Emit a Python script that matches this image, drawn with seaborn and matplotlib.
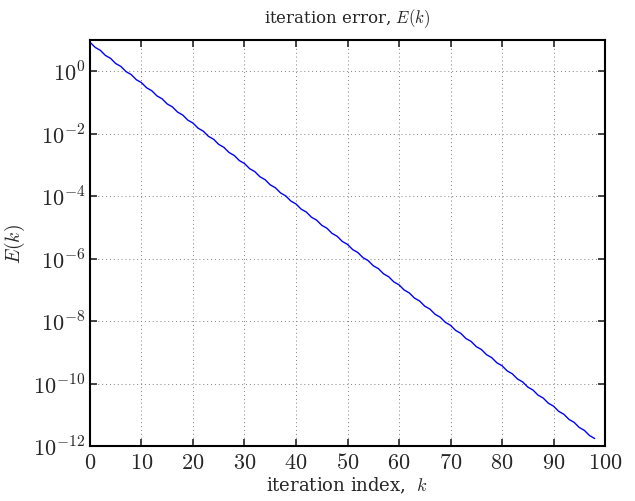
import matplotlib
matplotlib.use("Agg")
import matplotlib.pyplot as plt
import numpy as np
import pandas as pd
import seaborn as sns

# log10 of the iteration error, k = 0..98
log_err = [
    0.930, 0.765, 0.671, 0.506, 0.412, 0.247, 0.153, -0.012, -0.106, -0.271,
    -0.365, -0.530, -0.624, -0.789, -0.883, -1.048, -1.142, -1.307, -1.401, -1.566,
    -1.660, -1.825, -1.919, -2.084, -2.178, -2.343, -2.437, -2.602, -2.696, -2.861,
    -2.955, -3.120, -3.214, -3.379, -3.473, -3.638, -3.732, -3.897, -3.991, -4.156,
    -4.250, -4.415, -4.509, -4.674, -4.768, -4.933, -5.027, -5.192, -5.286, -5.451,
    -5.545, -5.710, -5.804, -5.969, -6.063, -6.228, -6.322, -6.487, -6.581, -6.746,
    -6.840, -7.005, -7.099, -7.264, -7.358, -7.523, -7.617, -7.782, -7.876, -8.041,
    -8.135, -8.300, -8.394, -8.559, -8.653, -8.818, -8.912, -9.077, -9.171, -9.336,
    -9.430, -9.595, -9.689, -9.854, -9.948, -10.113, -10.207, -10.372, -10.466, -10.631,
    -10.725, -10.890, -10.984, -11.149, -11.243, -11.408, -11.502, -11.667, -11.761,
]
k = list(range(len(log_err)))
df = pd.DataFrame({"k": k, "E": [10.0 ** v for v in log_err]})

sns.set_style("ticks")
plt.rcParams["font.family"] = ["DejaVu Serif"]
plt.rcParams["mathtext.fontset"] = "cm"

fig = plt.figure(figsize=(6.35, 5.02), dpi=100)
ax = fig.add_axes([0.1417, 0.1096, 0.8111, 0.8087])

sns.lineplot(data=df, x="k", y="E", color="#0000ff", linewidth=1.0, ax=ax)

ax.set_yscale("log")
ax.set_xlim(0, 100)
ax.set_ylim(1e-12, 1e1)
ax.set_xticks(np.arange(0, 101, 10))
ax.set_yticks([10.0 ** p for p in range(-12, 1, 2)])
ax.set_yticklabels([rf"$10^{{{p}}}$" for p in range(-12, 1, 2)])
ax.set_xticklabels([rf"$\mathrm{{{v}}}$" for v in range(0, 101, 10)])
ax.minorticks_off()

ax.grid(True, which="major", linestyle=(0, (1, 3)), color="#808080", linewidth=0.7)
ax.tick_params(direction="in", top=True, right=True, length=5, width=1.2, labelsize=16)
for s in ax.spines.values():
    s.set_linewidth(1.5)
    s.set_color("black")

ax.set_title("iteration error, $E(k)$", fontsize=12, pad=13)
ax.set_xlabel("iteration index,  $k$", fontsize=13, labelpad=1)
ax.set_ylabel("$E(k)$", fontsize=14, labelpad=4)

fig.savefig("out.png", dpi=100)
